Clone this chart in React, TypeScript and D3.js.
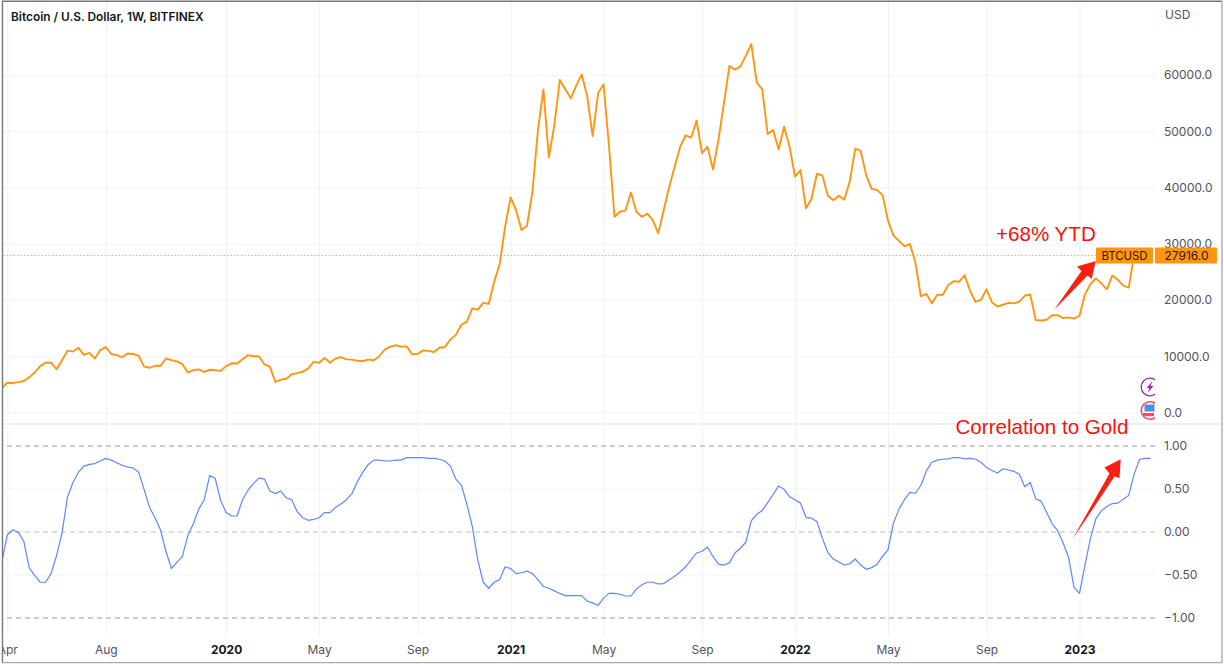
import { useEffect, useRef } from 'react';
import * as d3 from 'd3';

// weekly closes, first bar is the week of 2019-03-25
const priceValues = [
  4300, 5300, 5250, 5400, 5600, 6250, 7100, 8250, 8850, 8850, 7700, 9300, 11000, 10850, 11500, 10250,
  10600, 9600, 11100, 11650, 10400, 10200, 9850, 10500, 10400, 10100, 8150, 7950, 8300, 8300, 9600, 9300,
  9100, 8600, 7100, 7550, 7650, 7200, 7600, 7500, 7400, 8250, 8750, 8700, 9450, 10200, 10000, 10000,
  8550, 8150, 5450, 5850, 6000, 6800, 7000, 7250, 7800, 9000, 8850, 9700, 8850, 9600, 9850, 9450,
  9400, 9200, 9150, 9400, 9300, 10000, 11200, 11700, 11950, 11700, 11750, 10350, 10400, 11050, 10950, 10750,
  11500, 11650, 13000, 13800, 15600, 16150, 18500, 18300, 19500, 19300, 23250, 26350, 33000, 38250, 36000, 32450,
  33200, 39250, 50200, 57450, 45350, 51100, 59100, 57450, 55850, 58100, 60100, 56250, 49150, 56750, 58350, 47250,
  34800, 35700, 35900, 39100, 35700, 34800, 35350, 34200, 31850, 36000, 40150, 43700, 47250, 49250, 48850, 51900,
  46100, 47250, 43200, 48450, 54950, 61600, 60950, 61500, 63400, 65500, 58700, 57450, 49500, 50200, 46800, 50800,
  47250, 41950, 43100, 36300, 37950, 42450, 42150, 38550, 37750, 38550, 37850, 41050, 46900, 46500, 42200, 39750,
  39550, 38650, 34100, 31450, 30500, 29550, 29950, 26700, 20650, 21100, 19400, 20950, 20900, 22650, 23350, 23250,
  24400, 21600, 19650, 20050, 21900, 19600, 18850, 19150, 19500, 19400, 19700, 20750, 21000, 16450, 16350, 16500,
  17300, 17300, 16800, 16900, 16700, 17200, 21000, 22850, 23850, 22950, 21900, 24350, 23600, 22550, 22200, 28100,
  27500, 28300, 27916,
];

const correlationValues = [
  -0.35, -0.04, 0.02, -0.01, -0.11, -0.42, -0.51, -0.59, -0.59, -0.49, -0.28, -0.02, 0.4, 0.57, 0.69, 0.76,
  0.78, 0.79, 0.82, 0.85, 0.83, 0.8, 0.77, 0.75, 0.74, 0.69, 0.49, 0.28, 0.16, 0.02, -0.23, -0.43,
  -0.36, -0.29, -0.05, 0.09, 0.26, 0.37, 0.65, 0.62, 0.36, 0.22, 0.18, 0.18, 0.37, 0.48, 0.56, 0.62,
  0.61, 0.47, 0.44, 0.47, 0.39, 0.37, 0.23, 0.16, 0.13, 0.14, 0.16, 0.22, 0.22, 0.28, 0.32, 0.37,
  0.44, 0.58, 0.69, 0.78, 0.83, 0.83, 0.82, 0.82, 0.83, 0.83, 0.86, 0.86, 0.86, 0.86, 0.85, 0.85,
  0.84, 0.82, 0.76, 0.61, 0.54, 0.32, 0.06, -0.33, -0.59, -0.66, -0.59, -0.56, -0.41, -0.43, -0.49, -0.48,
  -0.46, -0.49, -0.56, -0.64, -0.66, -0.69, -0.72, -0.745, -0.745, -0.745, -0.745, -0.81, -0.83, -0.86, -0.775, -0.72,
  -0.72, -0.73, -0.75, -0.75, -0.67, -0.62, -0.59, -0.59, -0.61, -0.605, -0.56, -0.52, -0.47, -0.41, -0.33, -0.25,
  -0.23, -0.18, -0.29, -0.38, -0.39, -0.365, -0.25, -0.195, -0.125, 0.125, 0.2, 0.245, 0.335, 0.43, 0.53, 0.49,
  0.405, 0.37, 0.33, 0.165, 0.155, 0.115, -0.08, -0.245, -0.32, -0.355, -0.39, -0.375, -0.32, -0.39, -0.44, -0.42,
  -0.38, -0.29, -0.21, 0.1, 0.26, 0.37, 0.455, 0.445, 0.535, 0.705, 0.805, 0.83, 0.84, 0.845, 0.86, 0.86,
  0.845, 0.85, 0.84, 0.805, 0.745, 0.71, 0.68, 0.73, 0.715, 0.7, 0.665, 0.52, 0.57, 0.38, 0.35, 0.22,
  0.09, 0.01, -0.13, -0.3, -0.65, -0.72, -0.39, -0.08, 0.15, 0.24, 0.29, 0.325, 0.33, 0.375, 0.42, 0.67,
  0.84, 0.85, 0.85,
];

const timeTicks = [
  [2019, 3, 1], [2019, 7, 5], [2020, 0, 6], [2020, 4, 4], [2020, 8, 7], [2021, 0, 4],
  [2021, 4, 3], [2021, 8, 6], [2022, 0, 3], [2022, 4, 2], [2022, 8, 5], [2023, 0, 2],
].map(([y, m, d]) => new Date(Date.UTC(y, m, d)));
const timeLabels = ['Apr', 'Aug', '2020', 'May', 'Sep', '2021', 'May', 'Sep', '2022', 'May', 'Sep', '2023'];

const priceTicks = [0, 10000, 20000, 30000, 40000, 50000, 60000];
const correlationTicks = [-1, -0.5, 0, 0.5, 1];
const lastPrice = 27916;

const firstWeek = new Date(Date.UTC(2019, 2, 25));
const FONT = 'Inter, Roboto, sans-serif';
const ORANGE = '#ff9510';
const axisRightX = 1155;

const App = () => {
  const svgRef = useRef(null);

  useEffect(() => {
    const svg = d3.select(svgRef.current);
    svg.selectAll('*').remove();

    const x = d3.scaleUtc()
      .domain([timeTicks[0], timeTicks[timeTicks.length - 1]])
      .range([7.3, 1079.5]);
    const yPrice = d3.scaleLinear().domain([0, 60000]).range([412.5, 75]);
    const yCorr = d3.scaleLinear().domain([-1, 1]).range([617.5, 445.5]);
    const weekOf = (i: number) => d3.utcMonday.offset(firstWeek, i);

    const defs = svg.append('defs');
    defs.append('clipPath').attr('id', 'plot-clip')
      .append('rect').attr('x', 3).attr('y', 2).attr('width', axisRightX - 3).attr('height', 660);
    defs.append('clipPath').attr('id', 'frame-clip')
      .append('rect').attr('x', 3).attr('y', 2).attr('width', 1218).attr('height', 660);

    const plot = svg.append('g').attr('clip-path', 'url(#plot-clip)');

    // vertical grid
    plot.append('g')
      .attr('transform', 'translate(0,636)')
      .call(d3.axisBottom(x).tickValues(timeTicks).tickSize(-636).tickFormat(() => ''))
      .call(g => g.select('.domain').remove())
      .call(g => g.selectAll('line').attr('stroke', '#f0f1f4'));

    // horizontal grid, price pane
    plot.append('g')
      .attr('transform', `translate(${axisRightX},0)`)
      .call(d3.axisLeft(yPrice).tickValues(priceTicks).tickSize(axisRightX).tickFormat(() => ''))
      .call(g => g.select('.domain').remove())
      .call(g => g.selectAll('line').attr('stroke', '#f3f4f6'));

    // horizontal grid, correlation pane
    plot.append('g')
      .attr('transform', `translate(${axisRightX},0)`)
      .call(d3.axisLeft(yCorr).tickValues(correlationTicks).tickSize(axisRightX).tickFormat(() => ''))
      .call(g => g.select('.domain').remove())
      .call(g => g.selectAll('line')
        .attr('stroke', d => (d === 1 || d === -1 ? '#9a9a9a' : d === 0 ? '#bdbdbd' : '#f3f4f6'))
        .attr('stroke-dasharray', d => (Math.abs(d as number) === 0.5 ? null : '5 4')));

    // pane separator
    svg.append('line')
      .attr('x1', 3).attr('x2', 1221).attr('y1', 424).attr('y2', 424)
      .attr('stroke', '#eef0f5').attr('stroke-width', 2);

    // last price dotted line
    plot.append('line')
      .attr('x1', 3).attr('x2', 1096)
      .attr('y1', yPrice(lastPrice)).attr('y2', yPrice(lastPrice))
      .attr('stroke', '#f9a860').attr('stroke-dasharray', '1.5 2');

    const priceLine = d3.line<number>().x((_, i) => x(weekOf(i))).y(d => yPrice(d));
    plot.append('path')
      .attr('d', priceLine(priceValues))
      .attr('fill', 'none').attr('stroke', ORANGE).attr('stroke-width', 1.9)
      .attr('stroke-linejoin', 'round');

    const corrLine = d3.line<number>().x((_, i) => x(weekOf(i))).y(d => yCorr(d));
    plot.append('path')
      .attr('d', corrLine(correlationValues))
      .attr('fill', 'none').attr('stroke', '#5b88fb').attr('stroke-width', 1.2)
      .attr('stroke-linejoin', 'round');

    // event icons, cut off by the price axis
    const icons = svg.append('g').attr('clip-path', 'url(#plot-clip)');
    icons.append('circle').attr('cx', 1150).attr('cy', 387).attr('r', 8.8)
      .attr('fill', '#fff').attr('stroke', '#9c27b0').attr('stroke-width', 1.3);
    icons.append('path').attr('d', 'M1152.5 381 L1146.5 388 L1149.5 388 L1147.5 393 L1153.5 386 L1150.5 386 Z')
      .attr('fill', '#9c27b0');
    icons.append('circle').attr('cx', 1150).attr('cy', 410.5).attr('r', 8.8)
      .attr('fill', '#fff').attr('stroke', '#f0515a').attr('stroke-width', 1.6);
    icons.append('rect').attr('x', 1144.5).attr('y', 404.5).attr('width', 10).attr('height', 7).attr('fill', '#4a90e2');
    icons.append('rect').attr('x', 1143).attr('y', 413).attr('width', 11).attr('height', 3.2).attr('fill', '#f0515a');

    // price axis
    const styleAxisText = g => g.select('.domain').remove();
    svg.append('g')
      .attr('transform', `translate(${axisRightX},0)`)
      .call(d3.axisRight(yPrice).tickValues(priceTicks).tickSize(0).tickPadding(9).tickFormat(d => d3.format('.1f')(d as number)))
      .call(styleAxisText);
    svg.append('g')
      .attr('transform', `translate(${axisRightX},0)`)
      .call(d3.axisRight(yCorr).tickValues(correlationTicks).tickSize(0).tickPadding(9).tickFormat(d => d3.format('.2f')(d as number)))
      .call(styleAxisText);
    svg.selectAll('g text')
      .attr('font-family', FONT).attr('font-size', 12).attr('fill', '#50535e');

    // time axis
    const timeAxis = svg.append('g')
      .attr('clip-path', 'url(#frame-clip)')
      .append('g')
      .attr('transform', 'translate(0,636)')
      .call(d3.axisBottom(x).tickValues(timeTicks).tickSize(0).tickPadding(9)
        .tickFormat((_, i) => timeLabels[i]));
    timeAxis.select('.domain').remove();
    timeAxis.selectAll('text')
      .attr('font-family', FONT).attr('font-size', 12)
      .attr('font-weight', (_, i) => (timeLabels[i].startsWith('20') ? 700 : 400))
      .attr('fill', (_, i) => (timeLabels[i].startsWith('20') ? '#131722' : '#50535e'));

    svg.append('text').attr('x', 1165).attr('y', 19)
      .attr('font-family', FONT).attr('font-size', 12).attr('fill', '#50535e').text('USD');

    svg.append('text').attr('x', 11).attr('y', 21)
      .attr('font-family', FONT).attr('font-size', 11.9).attr('font-weight', 600).attr('fill', '#131722')
      .text('Bitcoin / U.S. Dollar, 1W, BITFINEX');

    // last price labels
    const labelY = yPrice(lastPrice);
    svg.append('rect').attr('x', 1096).attr('y', labelY - 8).attr('width', 57).attr('height', 16)
      .attr('rx', 1).attr('fill', ORANGE);
    svg.append('rect').attr('x', 1155).attr('y', labelY - 8).attr('width', 62).attr('height', 16)
      .attr('rx', 1).attr('fill', ORANGE);
    svg.append('text').attr('x', 1124.5).attr('y', labelY + 4.2).attr('text-anchor', 'middle')
      .attr('font-family', FONT).attr('font-size', 11.4).attr('fill', '#2b1a00').text('BTCUSD');
    svg.append('text').attr('x', 1164.5).attr('y', labelY + 4.2)
      .attr('font-family', FONT).attr('font-size', 12).attr('fill', '#2b1a00')
      .text(d3.format('.1f')(lastPrice));

    // hand drawn annotations
    const redText = (tx: number, ty: number, s: string) => svg.append('text')
      .attr('x', tx).attr('y', ty)
      .attr('font-family', '"Liberation Sans", Arial, sans-serif').attr('font-size', 20.6)
      .attr('fill', '#fb0f0f').text(s);
    redText(996, 241, '+68% YTD');
    redText(955.5, 434, 'Correlation to Gold');

    const arrow = d3.line();
    svg.append('path')
      .attr('d', arrow([[1054, 310], [1081.5, 271], [1077, 266.5], [1095.7, 261], [1091.7, 279], [1087.5, 275.5]]) + 'Z')
      .attr('fill', '#fb1f10');
    svg.append('path')
      .attr('d', arrow([[1072, 540], [1109.5, 473.5], [1104.5, 467.5], [1120.7, 459.3], [1119.5, 478], [1114.5, 476.5]]) + 'Z')
      .attr('fill', '#fb1f10');

    // screenshot frame
    svg.append('path')
      .attr('d', 'M2.5 663 L2.5 1.2 L1222 1.2')
      .attr('fill', 'none').attr('stroke', '#74777c').attr('stroke-width', 1.4);
    svg.append('path')
      .attr('d', 'M2.5 662.6 L1222 662.6 L1222 1.2')
      .attr('fill', 'none').attr('stroke', '#a9abae').attr('stroke-width', 1.4);
  }, []);

  return (
    <svg
      ref={svgRef}
      width={1224}
      height={664}
      style={{ position: 'absolute', left: 0, top: 0, background: '#fff' }}
    ></svg>
  );
};

export default App;
